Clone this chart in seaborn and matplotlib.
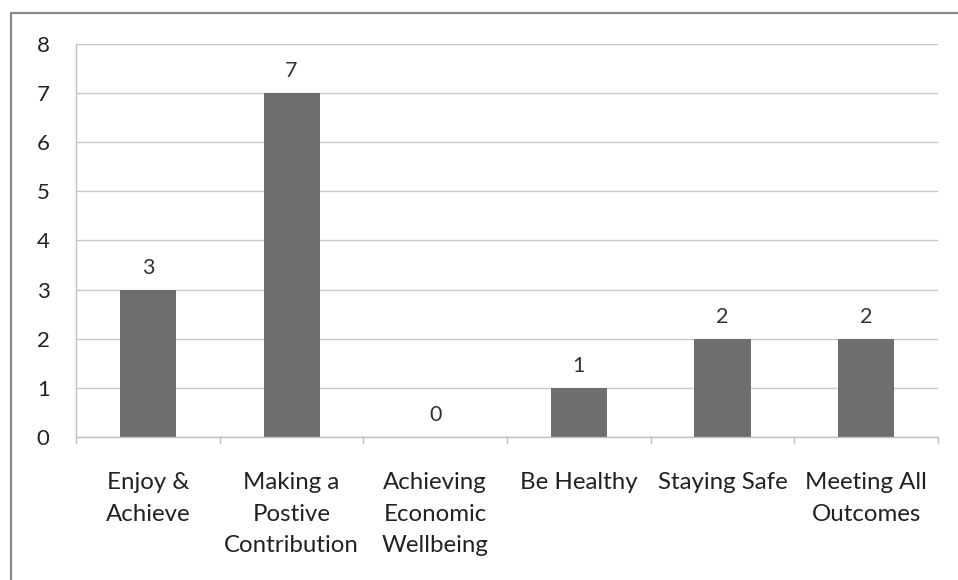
import matplotlib
matplotlib.use("Agg")
import matplotlib.pyplot as plt
import seaborn as sns
import pandas as pd
from matplotlib.lines import Line2D

categories = ["Enjoy &\nAchieve", "Making a\nPostive\nContribution", "Achieving\nEconomic\nWellbeing",
              "Be Healthy", "Staying Safe", "Meeting All\nOutcomes"]
counts = [3, 7, 0, 1, 2, 2]
y_ticks = [0, 1, 2, 3, 4, 5, 6, 7, 8]

sns.set_theme(style="white")
plt.rcParams["font.family"] = ["Lato", "DejaVu Sans"]

df = pd.DataFrame({"outcome": categories, "count": counts})

fig = plt.figure(figsize=(9.58, 5.8), dpi=100)
ax = fig.add_axes([0.0794, 0.2466, 0.8997, 0.6775])

sns.barplot(data=df, x="outcome", y="count", color="#6e6e6e", saturation=1,
            width=0.39, ax=ax, edgecolor="none")

ax.set_ylim(0, 8)
ax.set_xlim(-0.5, len(categories) - 0.5)
ax.set_yticks(y_ticks)
ax.set_yticklabels([str(t) for t in y_ticks], fontsize=16, color="#222222")
ax.yaxis.grid(True, color="#c8c8c8", linewidth=1)
ax.set_axisbelow(True)
ax.set_xlabel("")
ax.set_ylabel("")

# category labels under the axis
ax.set_xticks(range(len(categories)))
ax.set_xticklabels(categories, fontsize=17.3, color="#222222", linespacing=1.64)
ax.tick_params(axis="x", length=0, pad=25)
ax.tick_params(axis="y", length=0, pad=19)

# boundary tick marks between categories
for b in [i - 0.5 for i in range(len(categories) + 1)]:
    ax.plot([b, b], [0, -0.12], color="#c0c0c0", linewidth=1, clip_on=False)

for s in ["top", "right"]:
    ax.spines[s].set_visible(False)
for s in ["left", "bottom"]:
    ax.spines[s].set_color("#c0c0c0")
    ax.spines[s].set_linewidth(1)

# value labels above each bar
for i, v in enumerate(counts):
    ax.text(i, v + 0.24, str(v), ha="center", va="bottom", fontsize=15.5, color="#333333")

# outer frame: left and top edges
fig.add_artist(Line2D([11 / 958, 11 / 958], [0, 1 - 13 / 580], transform=fig.transFigure,
                      color="#888888", linewidth=1.6))
fig.add_artist(Line2D([11 / 958, 1], [1 - 13 / 580, 1 - 13 / 580], transform=fig.transFigure,
                      color="#888888", linewidth=1.6))

fig.savefig("out.png", dpi=100, facecolor="white")
